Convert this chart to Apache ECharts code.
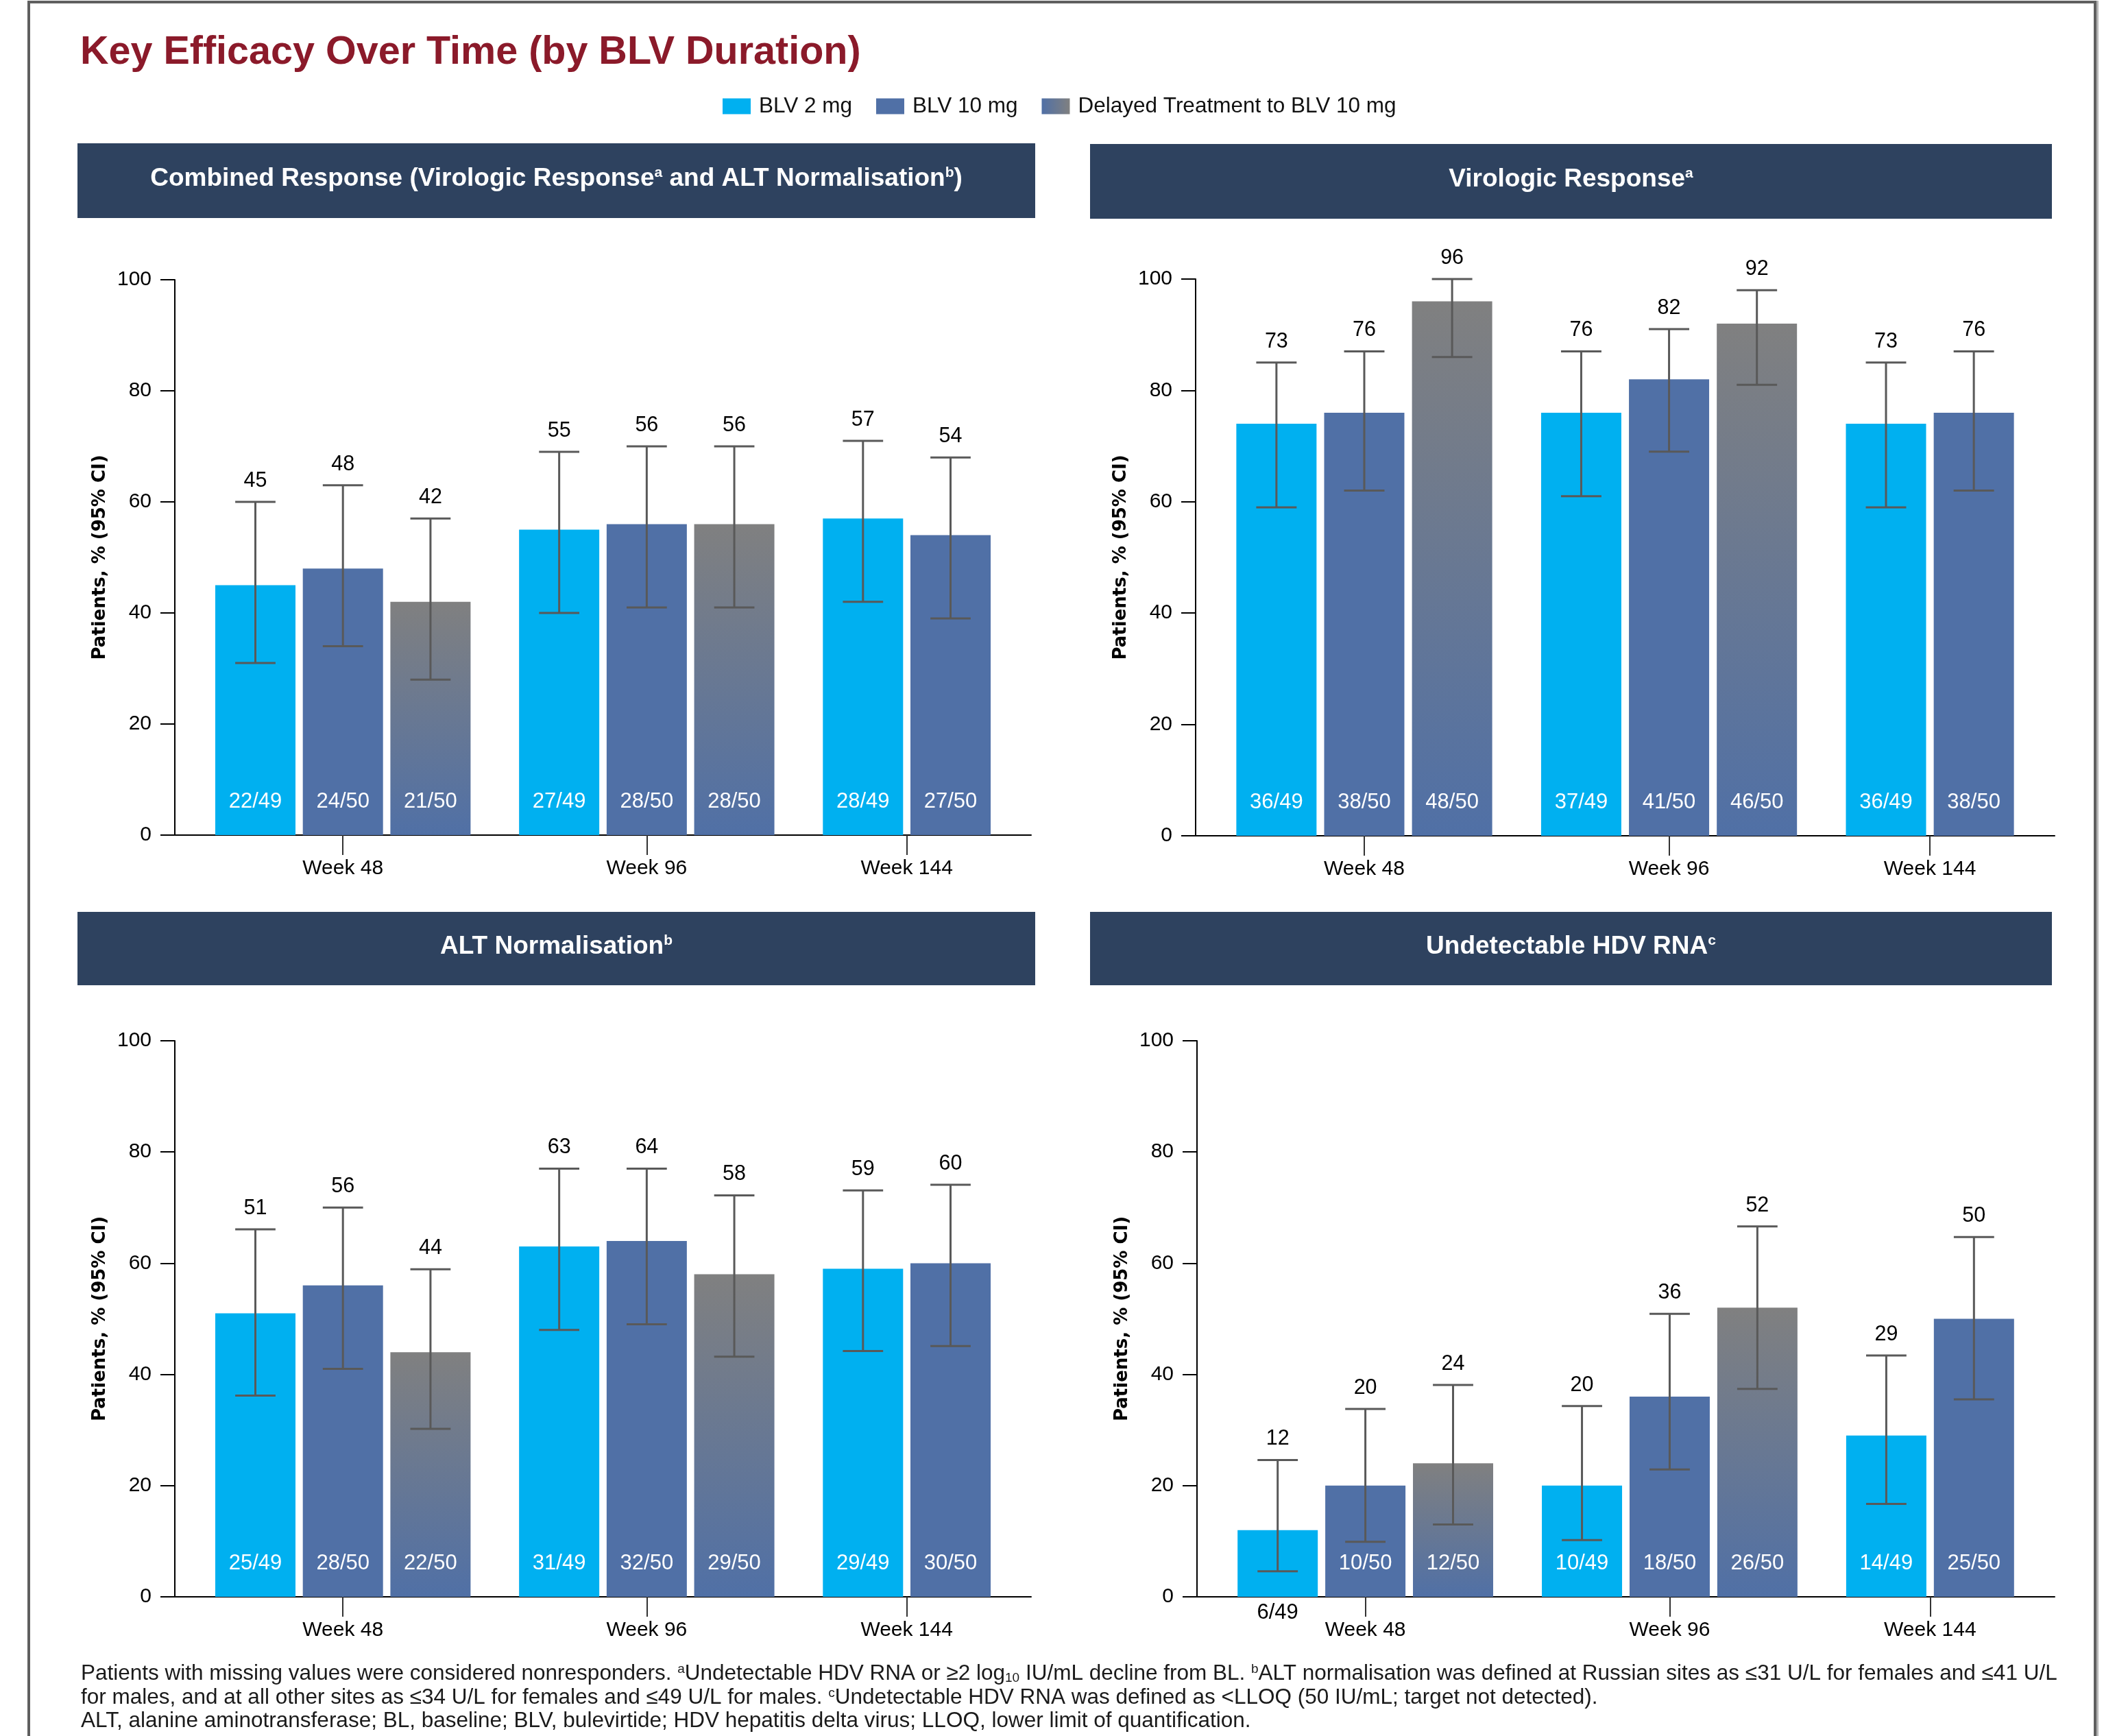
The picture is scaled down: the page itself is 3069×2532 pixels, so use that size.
<!DOCTYPE html>
<html>
<head>
<meta charset="utf-8">
<script src="https://cdn.jsdelivr.net/npm/echarts@6/dist/echarts.min.js"></script>
<style>
html,body{margin:0;padding:0;background:#ffffff;}
#chart{width:3069px;height:2532px;}
</style>
</head>
<body>
<div id="chart"></div>
<script>
// ---------------- DATA ----------------
const weeks = ['Week 48', 'Week 96', 'Week 144'];
const seriesNames = ['BLV 2 mg', 'BLV 10 mg', 'Delayed Treatment to BLV 10 mg'];
const yMin = 0, yMax = 100, yStep = 20;

const panelTitles = [
  'Combined Response (Virologic Response{sup|a} and ALT Normalisation{sup|b})',
  'Virologic Response{sup|a}',
  'ALT Normalisation{sup|b}',
  'Undetectable HDV RNA{sup|c}'
];
const yAxisTitle = 'Patients, % (95% CI)';

// rows: BLV 2 mg, BLV 10 mg, Delayed; columns: weeks
const combinedValues = [[45, 55, 57], [48, 56, 54], [42, 56, null]];
const combinedLabels = [['45', '55', '57'], ['48', '56', '54'], ['42', '56', null]];
const combinedLow = [[31, 40, 42], [34, 41, 39], [28, 41, null]];
const combinedHigh = [[60, 69, 71], [63, 70, 68], [57, 70, null]];
const combinedCounts = [['22/49', '27/49', '28/49'], ['24/50', '28/50', '27/50'], ['21/50', '28/50', null]];

const virologicValues = [[74, 76, 74], [76, 82, 76], [96, 92, null]];
const virologicLabels = [['73', '76', '73'], ['76', '82', '76'], ['96', '92', null]];
const virologicLow = [[59, 61, 59], [62, 69, 62], [86, 81, null]];
const virologicHigh = [[85, 87, 85], [87, 91, 87], [100, 98, null]];
const virologicCounts = [['36/49', '37/49', '36/49'], ['38/50', '41/50', '38/50'], ['48/50', '46/50', null]];

const altValues = [[51, 63, 59], [56, 64, 60], [44, 58, null]];
const altLabels = [['51', '63', '59'], ['56', '64', '60'], ['44', '58', null]];
const altLow = [[36.2, 48, 44.2], [41, 49, 45.1], [30.2, 43.2, null]];
const altHigh = [[66.1, 77, 73.1], [70, 77, 74.1], [58.9, 72.2, null]];
const altCounts = [['25/49', '31/49', '29/49'], ['28/50', '32/50', '30/50'], ['22/50', '29/50', null]];

const hdvValues = [[12, 20, 29], [20, 36, 50], [24, 52, null]];
const hdvLabels = [['12', '20', '29'], ['20', '36', '50'], ['24', '52', null]];
const hdvLow = [[4.6, 10.2, 16.7], [9.9, 22.9, 35.5], [13, 37.4, null]];
const hdvHigh = [[24.6, 34.3, 43.4], [33.8, 50.9, 64.7], [38.1, 66.6, null]];
const hdvCounts = [['6/49', '10/49', '14/49'], ['10/50', '18/50', '25/50'], ['12/50', '26/50', null]];

const footnoteLines = [
  'Patients with missing values were considered nonresponders. {sup|a}Undetectable HDV RNA or \u22652 log{sub|10} IU/mL decline from BL. {sup|b}ALT normalisation was defined at Russian sites as \u226431 U/L for females and \u226441 U/L',
  'for males, and at all other sites as \u226434 U/L for females and \u226449 U/L for males. {sup|c}Undetectable HDV RNA was defined as <LLOQ (50 IU/mL; target not detected).',
  'ALT, alanine aminotransferase; BL, baseline; BLV, bulevirtide; HDV hepatitis delta virus; LLOQ, lower limit of quantification.'
];
const chartTitle = 'Key Efficacy Over Time (by BLV Duration)';

// ---------------- STYLE / LAYOUT ----------------
const FONT = '"Liberation Sans", Arial, Helvetica, sans-serif';
const C_CYAN = '#00B0F0';
const C_BLUE = '#5070A6';
const C_GRAY = '#808080';
const C_ERR = '#595959';
const C_HEADER = '#2E425F';
const C_TITLE = '#8B1A2A';
const delayedGradient = {type: 'linear', x: 0, y: 0, x2: 0, y2: 1,
  colorStops: [{offset: 0, color: C_GRAY}, {offset: 1, color: C_BLUE}]};
const legendGradient = {type: 'linear', x: 0, y: 0, x2: 1, y2: 0,
  colorStops: [{offset: 0, color: C_BLUE}, {offset: 1, color: C_GRAY}]};
const seriesColors = [C_CYAN, C_BLUE, delayedGradient];

const gridBoxes = [
  {left: 255, top: 408, width: 1249, height: 810},
  {left: 1744, top: 407, width: 1253, height: 812},
  {left: 255, top: 1518, width: 1249, height: 811},
  {left: 1746, top: 1518, width: 1251, height: 811}
];
const headerBoxes = [
  {x: 113, y: 209, w: 1397, h: 109},
  {x: 1590, y: 210, w: 1403, h: 109},
  {x: 113, y: 1330, w: 1397, h: 107},
  {x: 1590, y: 1330, w: 1403, h: 107}
];
const GROUP_STEP = 3.47;   // slot units between first bars of consecutive groups
const X_PAD = 0.92;        // slot units between axis end and outer bar centre
const BAR_WIDTH = 117;
const CAP_FRAC = 0.23;

const panels = [
  {values: combinedValues, labels: combinedLabels, low: combinedLow, high: combinedHigh, counts: combinedCounts},
  {values: virologicValues, labels: virologicLabels, low: virologicLow, high: virologicHigh, counts: virologicCounts},
  {values: altValues, labels: altLabels, low: altLow, high: altHigh, counts: altCounts},
  {values: hdvValues, labels: hdvLabels, low: hdvLow, high: hdvHigh, counts: hdvCounts}
];

const option = {
  animation: false,
  backgroundColor: '#ffffff',
  grid: [], xAxis: [], yAxis: [], series: [],
  legend: {
    left: 1049, top: 134,
    itemWidth: 41, itemHeight: 23, itemGap: 35, icon: 'rect',
    selectedMode: false,
    textStyle: {fontFamily: FONT, fontSize: 31.5, color: '#111', padding: [0, 0, 0, 7]},
    data: [
      {name: seriesNames[0]},
      {name: seriesNames[1]},
      {name: seriesNames[2], itemStyle: {color: legendGradient}}
    ]
  },
  graphic: []
};

panels.forEach(function (pd, p) {
  option.grid.push(Object.assign({containLabel: false}, gridBoxes[p]));
  const groupSizes = weeks.map(function (w, g) {
    return pd.values.filter(function (row) { return row[g] != null; }).length;
  });
  const centers = weeks.map(function (w, g) { return g * GROUP_STEP + (groupSizes[g] - 1) / 2; });
  const xMin = -X_PAD;
  const xMax = (weeks.length - 1) * GROUP_STEP + groupSizes[weeks.length - 1] - 1 + X_PAD;

  for (let t = 0; t < seriesNames.length; t++) {
    const visible = t === 0;
    option.xAxis.push({
      type: 'value', gridIndex: p, min: xMin, max: xMax, position: 'bottom',
      show: visible,
      axisLine: {show: visible, onZero: false, lineStyle: {color: '#000', width: 2}},
      axisTick: {show: visible, customValues: centers, length: 29, lineStyle: {color: '#333', width: 2}},
      axisLabel: {
        show: visible, customValues: centers, margin: 34,
        fontFamily: FONT, fontSize: 30, color: '#000',
        formatter: function (v) {
          let best = 0;
          centers.forEach(function (c, i) { if (Math.abs(c - v) < Math.abs(centers[best] - v)) best = i; });
          return weeks[best];
        }
      },
      splitLine: {show: false}
    });
  }
  option.yAxis.push({
    type: 'value', gridIndex: p, min: yMin, max: yMax, interval: yStep,
    name: yAxisTitle, nameLocation: 'middle', nameGap: 96,
    nameTextStyle: {fontFamily: '"DejaVu Sans", Verdana, sans-serif', fontWeight: 'bold', fontSize: 26, color: '#000'},
    axisLine: {show: true, onZero: false, lineStyle: {color: '#000', width: 2}},
    axisTick: {show: true, length: 21, lineStyle: {color: '#000', width: 2}},
    axisLabel: {margin: 34, fontFamily: FONT, fontSize: 30, color: '#000'},
    splitLine: {show: false}
  });

  const errData = [];
  const errLabels = [];
  for (let t = 0; t < seriesNames.length; t++) {
    const data = [];
    weeks.forEach(function (w, g) {
      const v = pd.values[t][g];
      if (v == null) return;
      const x = g * GROUP_STEP + t;
      const item = {value: [x, v], nN: pd.counts[t][g]};
      if (pd.low[t][g] < 8) {
        item.label = {position: 'bottom', color: '#000', distance: 8};
      }
      data.push(item);
      errData.push([x, v, pd.low[t][g], pd.high[t][g]]);
      errLabels.push(pd.labels[t][g]);
    });
    option.series.push({
      type: 'bar', name: seriesNames[t],
      xAxisIndex: p * 3 + t, yAxisIndex: p,
      barWidth: BAR_WIDTH,
      itemStyle: {color: seriesColors[t]},
      label: {
        show: true, position: 'insideBottom', distance: 33,
        fontFamily: FONT, fontSize: 31, color: '#ffffff',
        formatter: function (prm) { return prm.data.nN; }
      },
      emphasis: {disabled: true},
      data: data
    });
  }
  option.series.push({
    type: 'custom', name: 'CI', xAxisIndex: p * 3, yAxisIndex: p,
    z: 5, silent: true,
    dimensions: ['x', 'y', 'lo', 'hi'],
    encode: {x: 0, y: 1},
    data: errData,
    renderItem: function (params, api) {
      const x = api.value(0);
      const top = api.coord([x, api.value(3)]);
      const bot = api.coord([x, api.value(2)]);
      const half = api.size([1, 0])[0] * CAP_FRAC;
      const ls = {stroke: C_ERR, lineWidth: 3};
      return {
        type: 'group',
        children: [
          {type: 'line', shape: {x1: top[0], y1: top[1], x2: bot[0], y2: bot[1]}, style: ls},
          {type: 'line', shape: {x1: top[0] - half, y1: top[1], x2: top[0] + half, y2: top[1]}, style: ls},
          {type: 'line', shape: {x1: bot[0] - half, y1: bot[1], x2: bot[0] + half, y2: bot[1]}, style: ls},
          {type: 'text', x: top[0], y: top[1] - 15,
            style: {text: errLabels[params.dataIndex], fill: '#000', fontFamily: FONT, fontSize: 30.5,
              align: 'center', verticalAlign: 'bottom', textAlign: 'center', textVerticalAlign: 'bottom'}}
        ]
      };
    }
  });

  // header box and text
  const hb = headerBoxes[p];
  option.graphic.push({
    type: 'rect', shape: {x: hb.x, y: hb.y, width: hb.w, height: hb.h},
    style: {fill: C_HEADER}, silent: true, z: 1
  });
  option.graphic.push({
    type: 'text', x: hb.x + hb.w / 2, y: hb.y + hb.h / 2 - 3, silent: true, z: 2,
    style: {
      text: panelTitles[p], fill: '#ffffff',
      fontFamily: FONT, fontSize: 37, fontWeight: 'bold',
      align: 'center', verticalAlign: 'middle', textAlign: 'center', textVerticalAlign: 'middle',
      rich: {
        sup: {fontFamily: FONT, fontSize: 21, fontWeight: 'bold', fill: '#ffffff', verticalAlign: 'top'}
      }
    }
  });
});

// title
option.graphic.push({
  type: 'text', x: 117, y: 77, silent: true,
  style: {text: chartTitle, fill: C_TITLE, fontFamily: FONT, fontSize: 57.5, fontWeight: 'bold',
    align: 'left', verticalAlign: 'middle', textAlign: 'left', textVerticalAlign: 'middle'}
});

// footnotes
const footY = [2441, 2476, 2510];
footnoteLines.forEach(function (line, i) {
  option.graphic.push({
    type: 'text', x: 118, y: footY[i], silent: true,
    style: {
      text: line, fill: '#1a1a1a', fontFamily: FONT, fontSize: 31.5,
      align: 'left', verticalAlign: 'middle', textAlign: 'left', textVerticalAlign: 'middle',
      rich: {
        sup: {fontFamily: FONT, fontSize: 19, fill: '#1a1a1a', verticalAlign: 'top'},
        sub: {fontFamily: FONT, fontSize: 19, fill: '#1a1a1a', verticalAlign: 'bottom'}
      }
    }
  });
});

// page frame
option.graphic.push({type: 'rect', shape: {x: 40, y: 1, width: 3018, height: 4}, style: {fill: '#5f5f5f'}, silent: true});
option.graphic.push({type: 'rect', shape: {x: 40, y: 1, width: 4, height: 2535}, style: {fill: '#5f5f5f'}, silent: true});
option.graphic.push({type: 'rect', shape: {x: 3054, y: 1, width: 4, height: 2535}, style: {fill: '#5f5f5f'}, silent: true});
option.graphic.push({type: 'rect', shape: {x: 3058, y: 1, width: 3, height: 2535}, style: {fill: '#b5b5b5'}, silent: true});

const chart = echarts.init(document.getElementById('chart'), null, {renderer: 'canvas', width: 3069, height: 2532});
chart.setOption(option);
</script>
</body>
</html>
